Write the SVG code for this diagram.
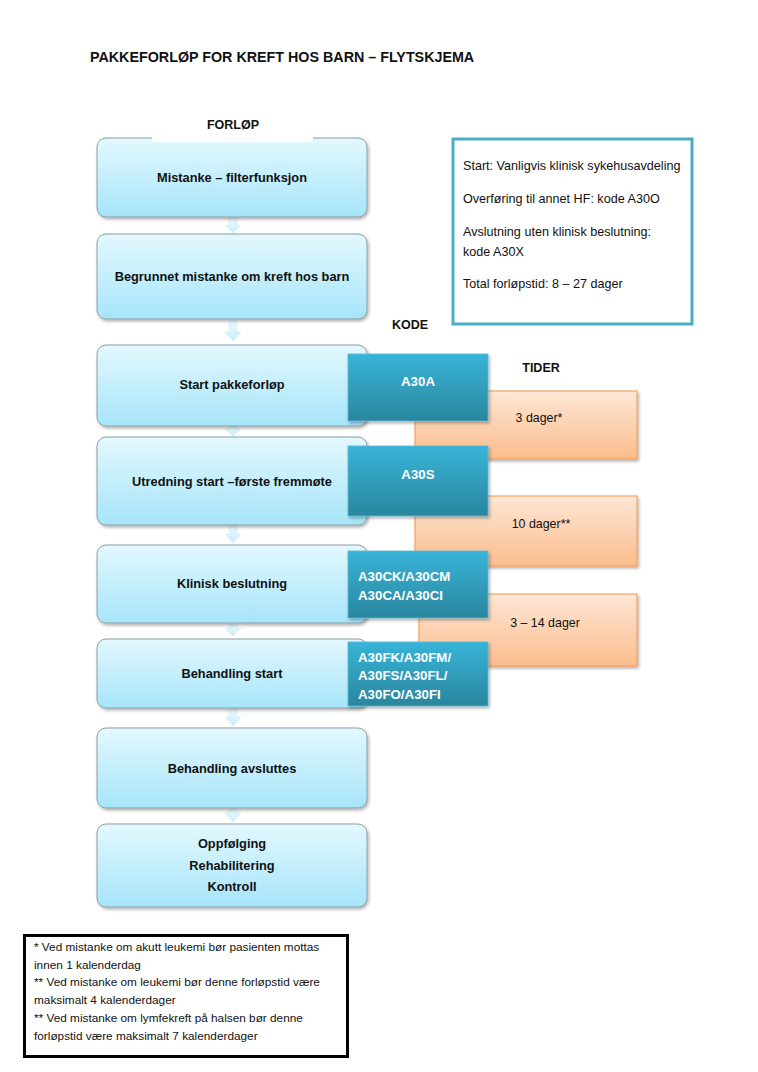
<svg xmlns="http://www.w3.org/2000/svg" width="758" height="1072" viewBox="0 0 758 1072">
<defs>
<linearGradient id="gBlue" x1="0" y1="0" x2="0" y2="1"><stop offset="0" stop-color="#e3f8fe"/><stop offset="1" stop-color="#a6e5fa"/></linearGradient>
<linearGradient id="gCode" x1="0" y1="0" x2="0" y2="1"><stop offset="0" stop-color="#38b4d8"/><stop offset="1" stop-color="#2a869e"/></linearGradient>
<linearGradient id="gOr" x1="0" y1="0" x2="0" y2="1"><stop offset="0" stop-color="#fde6d6"/><stop offset="1" stop-color="#fbbd8d"/></linearGradient>
<linearGradient id="gArr" x1="0" y1="0" x2="0" y2="1"><stop offset="0" stop-color="#eef9fd"/><stop offset="1" stop-color="#c9eef9"/></linearGradient>
<filter id="sh" x="-5%" y="-5%" width="115%" height="120%"><feDropShadow dx="1.5" dy="2" stdDeviation="1.5" flood-color="#000" flood-opacity="0.3"/></filter>
</defs>
<style>
.t{font-family:"Liberation Sans",Arial,sans-serif;}
.b{font-weight:bold;}
.blue{fill:url(#gBlue);stroke:#8e9ca2;stroke-width:1;}
.code{fill:url(#gCode);stroke:#5fb9d2;stroke-width:0.8;}
.or{fill:url(#gOr);stroke:#f79646;stroke-width:1;}
.bt{font-family:"Liberation Sans",Arial,sans-serif;font-weight:bold;font-size:12.8px;fill:#111;text-anchor:middle;}
.ct{font-family:"Liberation Sans",Arial,sans-serif;font-weight:bold;font-size:13.3px;fill:#fff;}
.ot{font-family:"Liberation Sans",Arial,sans-serif;font-size:12.4px;fill:#111;text-anchor:middle;}
.it{font-family:"Liberation Sans",Arial,sans-serif;font-size:12.6px;fill:#111;}
.ft{font-family:"Liberation Sans",Arial,sans-serif;font-size:11.8px;fill:#111;}
.arr{fill:url(#gArr);stroke:#d3eef7;stroke-width:0.6;}
</style>
<rect width="758" height="1072" fill="#fff"/>
<text class="t b" x="90" y="62" font-size="14.3" fill="#111">PAKKEFORLØP FOR KREFT HOS BARN – FLYTSKJEMA</text>

<g id="connectors">
<path class="arr" d="M229,217 h8 v8 h4 l-8,8 l-8,-8 h4 z"/>
<path class="arr" d="M229,319 h8 v13 h4 l-8,9 l-8,-9 h4 z"/>
<path class="arr" d="M229,426 h8 v3 h4 l-8,7 l-8,-7 h4 z"/>
<path class="arr" d="M229,525 h8 v9 h4 l-8,9 l-8,-9 h4 z"/>
<path class="arr" d="M229,623 h8 v5 h4 l-8,8 l-8,-8 h4 z"/>
<path class="arr" d="M229,708 h8 v9 h4 l-8,9 l-8,-9 h4 z"/>
<path class="arr" d="M229,808 h8 v5 h4 l-8,9 l-8,-9 h4 z"/>
</g>

<g id="n1"><rect class="blue" x="97" y="138" width="270" height="79" rx="9" filter="url(#sh)"/><text class="bt" x="232" y="182">Mistanke – filterfunksjon</text></g>
<g id="forlop"><rect x="152" y="128" width="161" height="14" fill="#fff"/><text class="t b" x="233" y="129" font-size="12.5" text-anchor="middle" fill="#111">FORLØP</text></g>
<g id="n2"><rect class="blue" x="97" y="234" width="270" height="85" rx="9" filter="url(#sh)"/><text class="bt" x="232" y="281">Begrunnet mistanke om kreft hos barn</text></g>
<g id="n3"><rect class="blue" x="97" y="345" width="270" height="81" rx="9" filter="url(#sh)"/><text class="bt" x="232" y="389">Start pakkeforløp</text></g>
<g id="n4"><rect class="blue" x="97" y="437" width="270" height="88" rx="9" filter="url(#sh)"/><text class="bt" x="232" y="486">Utredning start –første fremmøte</text></g>
<g id="n5"><rect class="blue" x="97" y="545" width="270" height="78" rx="9" filter="url(#sh)"/><text class="bt" x="232" y="588">Klinisk beslutning</text></g>
<g id="n6"><rect class="blue" x="97" y="639" width="270" height="69" rx="9" filter="url(#sh)"/><text class="bt" x="232" y="678">Behandling start</text></g>
<g id="n7"><rect class="blue" x="97" y="728" width="270" height="80" rx="9" filter="url(#sh)"/><text class="bt" x="232" y="773">Behandling avsluttes</text></g>
<g id="n8"><rect class="blue" x="97" y="824" width="270" height="83" rx="9" filter="url(#sh)"/><text class="bt" x="232" y="848">Oppfølging</text><text class="bt" x="232" y="870">Rehabilitering</text><text class="bt" x="232" y="891">Kontroll</text></g>

<g id="kode"><text class="t b" x="410" y="329" font-size="12.5" text-anchor="middle" fill="#111">KODE</text></g>
<g id="tider"><text class="t b" x="541" y="372" font-size="12.5" text-anchor="middle" fill="#111">TIDER</text></g>

<g id="o1"><rect class="or" x="415" y="391" width="222" height="68" filter="url(#sh)"/><text class="ot" x="539" y="422">3 dager*</text></g>
<g id="o2"><rect class="or" x="415" y="496" width="222" height="70" filter="url(#sh)"/><text class="ot" x="541" y="528">10 dager**</text></g>
<g id="o3"><rect class="or" x="419" y="594" width="218" height="72" filter="url(#sh)"/><text class="ot" x="545" y="627">3 – 14 dager</text></g>

<g id="c1"><rect class="code" x="348" y="354" width="140" height="67" filter="url(#sh)"/><text class="ct" x="418" y="386" text-anchor="middle">A30A</text></g>
<g id="c2"><rect class="code" x="348" y="446" width="140" height="70" filter="url(#sh)"/><text class="ct" x="418" y="479" text-anchor="middle">A30S</text></g>
<g id="c3"><rect class="code" x="348" y="551" width="140" height="67" filter="url(#sh)"/><text class="ct" x="358" y="581">A30CK/A30CM</text><text class="ct" x="358" y="600">A30CA/A30CI</text></g>
<g id="c4"><rect class="code" x="348" y="642" width="140" height="64" filter="url(#sh)"/><text class="ct" x="358" y="662">A30FK/A30FM/</text><text class="ct" x="358" y="680">A30FS/A30FL/</text><text class="ct" x="358" y="699">A30FO/A30FI</text></g>

<g id="info"><rect x="453" y="139" width="239" height="185" fill="#fff" stroke="#4bacc6" stroke-width="3"/>
<text class="it" x="463" y="170">Start: Vanligvis klinisk sykehusavdeling</text>
<text class="it" x="463" y="203">Overføring til annet HF: kode A30O</text>
<text class="it" x="463" y="236">Avslutning uten klinisk beslutning:</text>
<text class="it" x="463" y="256">kode A30X</text>
<text class="it" x="463" y="288">Total forløpstid: 8 – 27 dager</text>
</g>

<g id="notes"><rect x="24.5" y="935.5" width="323" height="121" fill="#fff" stroke="#000" stroke-width="3"/>
<text class="ft" x="34" y="951">* Ved mistanke om akutt leukemi bør pasienten mottas</text>
<text class="ft" x="34" y="969">innen 1 kalenderdag</text>
<text class="ft" x="34" y="986">** Ved mistanke om leukemi bør denne forløpstid være</text>
<text class="ft" x="34" y="1004">maksimalt 4 kalenderdager</text>
<text class="ft" x="34" y="1022">** Ved mistanke om lymfekreft på halsen bør denne</text>
<text class="ft" x="34" y="1040">forløpstid være maksimalt 7 kalenderdager</text>
</g>
</svg>
